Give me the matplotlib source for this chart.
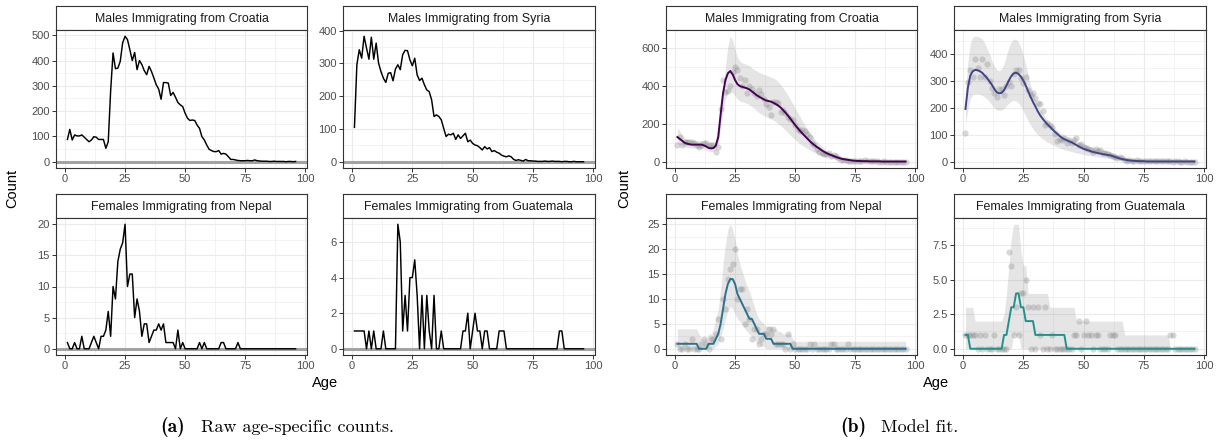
import numpy as np
import matplotlib
matplotlib.use("Agg")
import matplotlib.pyplot as plt
from matplotlib.ticker import MultipleLocator, FormatStrFormatter

plt.rcParams['font.family'] = ['Liberation Sans', 'DejaVu Sans']

# Ages 1..96
ages = np.arange(1, 97)

# Raw age-specific counts
croatia_counts = [88, 128, 86, 106, 102, 102, 106, 97, 88, 79,
                  86, 99, 97, 88, 88, 88, 53, 79, 280, 430,
                  368, 370, 397, 470, 496, 483, 443, 400, 432, 364,
                  400, 384, 360, 344, 377, 357, 331, 304, 287, 247,
                  313, 313, 311, 262, 274, 255, 234, 225, 218, 192,
                  172, 163, 165, 163, 145, 132, 99, 86, 66, 49,
                  44, 40, 40, 44, 30, 33, 30, 20, 9, 9,
                  7, 5, 4, 4, 4, 5, 4, 4, 7, 4,
                  3, 2, 2, 2, 1, 1, 2, 1, 1, 1,
                  1, 0, 1, 1, 0, 1]
syria_counts = [105, 296, 342, 316, 383, 347, 313, 380, 313, 362,
                301, 275, 255, 242, 270, 272, 247, 283, 296, 281,
                327, 340, 339, 311, 293, 316, 265, 248, 255, 235,
                219, 214, 189, 138, 143, 138, 128, 102, 77, 84,
                82, 87, 68, 82, 71, 79, 87, 61, 66, 56,
                51, 49, 43, 36, 46, 39, 43, 31, 34, 29,
                26, 20, 17, 15, 18, 15, 7, 4, 6, 4,
                2, 7, 3, 3, 2, 2, 1, 1, 1, 2,
                1, 1, 2, 1, 1, 1, 0, 1, 1, 0,
                0, 1, 0, 0, 0, 0]
nepal_counts = [1, 0, 0, 1, 0, 0, 2, 0, 0, 0,
                1, 2, 1, 0, 2, 2, 3, 6, 2, 10,
                8, 14, 16, 17, 20, 10, 12, 12, 5, 8,
                6, 2, 4, 4, 1, 2, 3, 3, 4, 3,
                4, 1, 1, 1, 1, 0, 3, 0, 1, 0,
                0, 0, 0, 0, 0, 1, 0, 1, 0, 0,
                0, 0, 0, 0, 1, 1, 0, 0, 0, 0,
                0, 1, 0, 0, 0, 0, 0, 0, 0, 0,
                0, 0, 0, 0, 0, 0, 0, 0, 0, 0,
                0, 0, 0, 0, 0, 0]
guatemala_counts = [1, 1, 1, 1, 1, 0, 1, 0, 1, 0,
                    0, 0, 1, 0, 0, 0, 0, 0, 7, 6,
                    1, 3, 1, 4, 4, 5, 3, 0, 3, 0,
                    3, 1, 0, 3, 0, 0, 1, 0, 0, 0,
                    0, 0, 0, 0, 0, 1, 1, 2, 0, 1,
                    2, 1, 1, 0, 1, 1, 0, 0, 0, 0,
                    1, 1, 1, 0, 0, 0, 0, 0, 0, 0,
                    0, 0, 0, 0, 0, 0, 0, 0, 0, 0,
                    0, 0, 0, 0, 0, 1, 1, 0, 0, 0,
                    0, 0, 0, 0, 0, 0]

# Model fit: median and interval bounds
croatia_fit = [130, 120, 110, 100, 95, 92, 90, 90, 90, 90,
               90, 86, 80, 73, 70, 72, 85, 130, 250, 360,
               430, 465, 477, 460, 430, 408, 398, 394, 390, 386,
               380, 370, 360, 350, 342, 335, 328, 322, 319, 316,
               310, 303, 295, 285, 272, 258, 243, 227, 210, 193,
               178, 163, 149, 136, 123, 110, 98, 88, 78, 70,
               61, 53, 46, 40, 35, 30, 25, 21, 17, 14,
               12, 10, 8, 6, 5, 4, 4, 3, 3, 3,
               2, 2, 2, 2, 2, 1, 1, 1, 1, 1,
               1, 1, 1, 1, 1, 1]
croatia_hi = [180, 160, 140, 125, 118, 115, 113, 112, 112, 112,
              112, 108, 100, 92, 88, 92, 118, 190, 270, 380,
              500, 610, 660, 640, 590, 550, 530, 520, 515, 510,
              505, 495, 485, 478, 470, 465, 460, 455, 450, 445,
              440, 432, 420, 405, 388, 370, 350, 328, 305, 282,
              260, 238, 215, 195, 175, 155, 138, 122, 108, 95,
              83, 72, 62, 54, 47, 40, 34, 29, 24, 20,
              17, 14, 12, 10, 9, 8, 7, 6, 6, 5,
              5, 4, 4, 4, 4, 3, 3, 3, 3, 3,
              3, 3, 3, 3, 3, 3]
croatia_lo = [95, 90, 85, 78, 75, 73, 72, 71, 71, 71,
              70, 67, 62, 56, 53, 55, 65, 95, 180, 265,
              330, 360, 372, 365, 345, 330, 320, 316, 312, 306,
              300, 290, 280, 268, 258, 250, 242, 236, 230, 225,
              218, 210, 200, 190, 178, 165, 152, 140, 128, 116,
              105, 95, 86, 78, 70, 62, 55, 49, 43, 38,
              33, 28, 24, 21, 18, 15, 12, 10, 8, 7,
              6, 5, 4, 3, 3, 2, 2, 2, 1, 1,
              1, 1, 1, 1, 1, 0, 0, 0, 0, 0,
              0, 0, 0, 0, 0, 0]

syria_fit = [196, 275, 320, 336, 341, 340, 336, 330, 320, 310,
             298, 285, 270, 258, 254, 256, 266, 283, 302, 318,
             328, 331, 326, 316, 302, 283, 262, 241, 222, 205,
             187, 172, 160, 149, 139, 130, 121, 112, 104, 96,
             89, 84, 80, 76, 72, 67, 62, 57, 52, 48,
             45, 42, 39, 36, 34, 32, 30, 28, 27, 25,
             24, 21, 18, 15, 12, 10, 8, 6, 5, 4,
             3, 3, 2, 2, 2, 1, 1, 1, 1, 1,
             1, 1, 1, 1, 1, 1, 1, 1, 1, 1,
             1, 1, 1, 1, 1, 1]
syria_hi = [260, 370, 440, 462, 466, 465, 462, 455, 440, 420,
            398, 375, 355, 342, 338, 345, 365, 395, 425, 447,
            455, 455, 445, 425, 395, 360, 320, 285, 255, 232,
            212, 195, 180, 166, 153, 143, 134, 125, 117, 110,
            104, 99, 94, 89, 84, 80, 76, 72, 69, 66,
            63, 60, 57, 54, 51, 48, 46, 44, 42, 40,
            37, 33, 29, 25, 22, 19, 16, 14, 12, 11,
            10, 9, 8, 7, 6, 5, 5, 4, 4, 4,
            4, 3, 3, 3, 3, 3, 3, 3, 3, 3,
            3, 3, 3, 3, 3, 3]
syria_lo = [140, 195, 235, 248, 252, 252, 250, 246, 240, 232,
            222, 210, 200, 193, 190, 192, 198, 208, 218, 225,
            228, 226, 218, 205, 188, 170, 152, 136, 122, 110,
            100, 92, 85, 79, 73, 68, 63, 59, 55, 51,
            48, 45, 42, 40, 38, 35, 33, 31, 29, 27,
            25, 23, 22, 21, 20, 18, 17, 15, 14, 13,
            12, 10, 9, 8, 6, 5, 4, 3, 2, 2,
            1, 1, 1, 1, 1, 0, 0, 0, 0, 0,
            0, 0, 0, 0, 0, 0, 0, 0, 0, 0,
            0, 0, 0, 0, 0, 0]

nepal_fit = [1, 1, 1, 1, 1, 1, 1, 1, 1, 0,
             0, 0, 0, 1, 1, 1, 2, 3, 5, 8,
             11, 13, 14, 14, 13, 11, 10, 9, 8, 7,
             6, 6, 5, 4, 3, 3, 3, 2, 2, 2,
             1, 1, 1, 1, 1, 1, 1, 1, 0, 0,
             0, 0, 0, 0, 0, 0, 0, 0, 0, 0,
             0, 0, 0, 0, 0, 0, 0, 0, 0, 0,
             0, 0, 0, 0, 0, 0, 0, 0, 0, 0,
             0, 0, 0, 0, 0, 0, 0, 0, 0, 0,
             0, 0, 0, 0, 0, 0]
nepal_hi = [4, 4, 4, 4, 4, 4, 4, 4, 4, 3,
            2, 2, 2, 3, 3, 4, 6, 8, 12, 17,
            21, 24, 25, 24, 22, 19, 17, 15.5, 14, 12.5,
            11.5, 10, 8.5, 7, 6, 5.5, 5, 4.5, 4.5, 4.5,
            4, 4, 3.5, 3.5, 3, 3, 3, 3, 2, 1.5,
            1.5, 1.5, 1.5, 1.5, 1.5, 1.5, 1.5, 1.5, 1.5, 1.5,
            1.5, 1.5, 1.5, 1.5, 1.5, 1.5, 1.5, 1.5, 1.5, 1.5,
            1.5, 1.5, 1.5, 1.5, 1.5, 1.5, 1.5, 1.5, 1.5, 1.5,
            1.5, 1.5, 1.5, 1.5, 1.5, 1.5, 1.5, 1.5, 1.5, 1.5,
            1.5, 1.5, 1.5, 1.5, 1.5, 1.5]
nepal_lo = [0, 0, 0, 0, 0, 0, 0, 0, 0, 0,
            0, 0, 0, 0, 0, 0, 0.5, 1, 2.5, 4,
            6, 7.5, 8.5, 8, 7, 6, 5.5, 5, 4, 3.5,
            3, 2.5, 2, 1.2, 1, 0.5, 0.5, 0, 0, 0,
            0, 0, 0, 0, 0, 0, 0, 0, 0, 0,
            0, 0, 0, 0, 0, 0, 0, 0, 0, 0,
            0, 0, 0, 0, 0, 0, 0, 0, 0, 0,
            0, 0, 0, 0, 0, 0, 0, 0, 0, 0,
            0, 0, 0, 0, 0, 0, 0, 0, 0, 0,
            0, 0, 0, 0, 0, 0]

guatemala_fit = [1, 1, 0, 0, 0, 0, 0, 0, 0, 0,
                 0, 0, 0, 0, 0, 0, 1, 1, 2, 3,
                 3, 4, 4, 3, 3, 2, 2, 2, 2, 1,
                 1, 1, 1, 1, 1, 1, 1, 1, 1, 1,
                 1, 1, 0, 0, 0, 0, 0, 0, 0, 0,
                 0, 0, 0, 0, 0, 0, 0, 0, 0, 0,
                 0, 0, 0, 0, 0, 0, 0, 0, 0, 0,
                 0, 0, 0, 0, 0, 0, 0, 0, 0, 0,
                 0, 0, 0, 0, 0, 0, 0, 0, 0, 0,
                 0, 0, 0, 0, 0, 0]
guatemala_hi = [3, 3, 3, 3, 2, 2, 2, 2, 2, 2,
                2, 2, 2, 2, 2, 2, 2.5, 4, 6, 8,
                9, 9, 9, 7, 6, 6, 4, 4, 4, 4,
                4, 4, 4, 4, 4, 3, 3, 3, 3, 3,
                3, 3, 3, 3, 3, 3, 2, 2, 2, 2,
                2, 2, 2, 2, 2, 2, 2, 2, 2, 2,
                2, 2, 2, 2, 2, 2, 1, 1, 1, 1,
                1, 1, 1, 1, 1, 1, 1, 1, 1, 1,
                1, 1, 1, 1, 1, 0, 0, 0, 0, 0,
                0, 0, 0, 0, 0, 0]
guatemala_lo = [0, 0, 0, 0, 0, 0, 0, 0, 0, 0,
                0, 0, 0, 0, 0, 0, 0, 0, 0, 0,
                1, 1, 1, 0, 0, 0, 0, 0, 0, 0,
                0, 0, 0, 0, 0, 0, 0, 0, 0, 0,
                0, 0, 0, 0, 0, 0, 0, 0, 0, 0,
                0, 0, 0, 0, 0, 0, 0, 0, 0, 0,
                0, 0, 0, 0, 0, 0, 0, 0, 0, 0,
                0, 0, 0, 0, 0, 0, 0, 0, 0, 0,
                0, 0, 0, 0, 0, 0, 0, 0, 0, 0,
                0, 0, 0, 0, 0, 0]

titles = ["Males Immigrating from Croatia", "Males Immigrating from Syria",
          "Females Immigrating from Nepal", "Females Immigrating from Guatemala"]
fit_colours = ['#440154', '#414487', '#2C718E', '#21918C']

# Figure in pixel units
W, H = 1221, 440
fig = plt.figure(figsize=(W / 100, H / 100), dpi=100)

def frac(x0, y0, x1, y1):
    return [x0 / W, 1 - y1 / H, (x1 - x0) / W, (y1 - y0) / H]

cols_a = [(56, 307), (343, 595)]
cols_b = [(666, 917), (954, 1206)]
rows = [(30, 168), (218, 355)]
strip_h = 24

def make_panel(xs, ys, title, ystep, yfmt=None):
    x0, x1 = xs
    y0, y1 = ys
    sax = fig.add_axes(frac(x0, y0 - strip_h, x1, y0))
    sax.set_xticks([])
    sax.set_yticks([])
    for s in sax.spines.values():
        s.set_color('#333333')
        s.set_linewidth(0.8)
    sax.text(0.5, 0.47, title, ha='center', va='center', fontsize=8.9,
             color='#1A1A1A', transform=sax.transAxes)

    ax = fig.add_axes(frac(x0, y0, x1, y1))
    ax.set_xlim(-3.75, 100.75)
    ax.xaxis.set_major_locator(MultipleLocator(25))
    ax.xaxis.set_minor_locator(MultipleLocator(12.5))
    ax.yaxis.set_major_locator(MultipleLocator(ystep))
    ax.yaxis.set_minor_locator(MultipleLocator(ystep / 2))
    if yfmt:
        ax.yaxis.set_major_formatter(FormatStrFormatter(yfmt))
    ax.grid(which='major', color='#EBEBEB', lw=0.8)
    ax.grid(which='minor', color='#EBEBEB', lw=0.4)
    ax.set_axisbelow(True)
    ax.tick_params(which='major', length=2.7, width=0.7, color='#333333',
                   labelsize=8.0, labelcolor='#4D4D4D', pad=1.8)
    ax.tick_params(which='minor', length=0)
    for s in ax.spines.values():
        s.set_color('#333333')
        s.set_linewidth(0.8)
    return ax

def set_ylim(ax, lo, hi):
    pad = 0.05 * (hi - lo)
    ax.set_ylim(lo - pad, hi + pad)

counts = [croatia_counts, syria_counts, nepal_counts, guatemala_counts]
fits = [croatia_fit, syria_fit, nepal_fit, guatemala_fit]
his = [croatia_hi, syria_hi, nepal_hi, guatemala_hi]
los = [croatia_lo, syria_lo, nepal_lo, guatemala_lo]
steps_a = [100, 100, 5, 2]
steps_b = [200, 100, 5, 2.5]
fmts_b = [None, None, None, '%.1f']

for i in range(4):
    r, c = divmod(i, 2)

    # (a) raw counts
    ax = make_panel(cols_a[c], rows[r], titles[i], steps_a[i])
    ax.axhline(0, color='#A3A3A3', lw=2.2, zorder=1)
    ax.plot(ages, counts[i], color='black', lw=1.05, zorder=2)
    set_ylim(ax, 0, max(counts[i]))

    # (b) model fit
    ax = make_panel(cols_b[c], rows[r], titles[i], steps_b[i], fmts_b[i])
    ax.fill_between(ages, los[i], his[i], color='grey', alpha=0.2, lw=0, zorder=1)
    ax.scatter(ages, counts[i], s=20, color='grey', alpha=0.3, lw=0, zorder=2)
    ax.plot(ages, fits[i], color=fit_colours[i], lw=1.4, zorder=3)
    set_ylim(ax, min(min(los[i]), min(counts[i])), max(max(his[i]), max(counts[i])))

# Axis titles
for xc, xl in [(12, 325), (624, 936)]:
    fig.text(xc / W, 1 - 188 / H, "Count", rotation=90, ha='center', va='center',
             fontsize=10.5, color='black')
    fig.text(xl / W, 1 - 383 / H, "Age", ha='center', va='center',
             fontsize=10.5, color='black')

# Sub-captions
base = 1 - 432 / H
fig.text(160 / W, base, "(a)", family='cmb10', fontsize=14, va='baseline')
fig.text(201 / W, base, "Raw age-specific counts.", family='cmr10',
         fontsize=13, va='baseline')
fig.text(840 / W, base, "(b)", family='cmb10', fontsize=14, va='baseline')
fig.text(881 / W, base, "Model fit.", family='cmr10', fontsize=13, va='baseline')

fig.savefig("out.png", dpi=100)
